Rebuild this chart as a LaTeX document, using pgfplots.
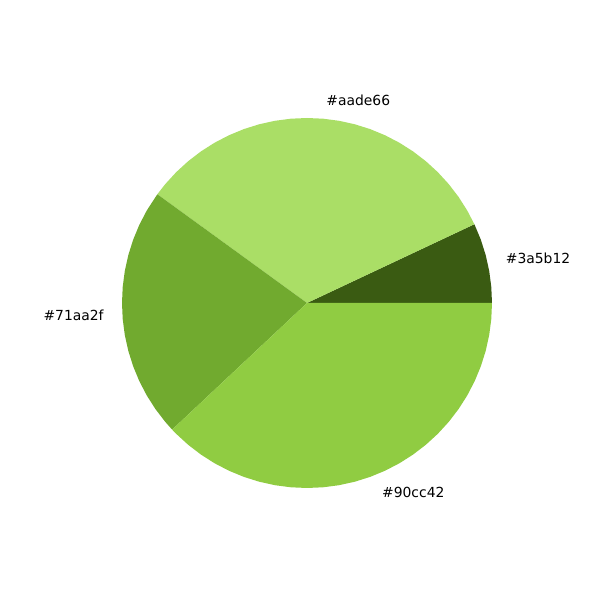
\documentclass[border=0pt]{standalone}
\usepackage{fontspec}
\setmainfont{DejaVu Sans}
\usepackage{pgfplots}
\pgfplotsset{compat=1.18}
\definecolor{cA}{HTML}{3A5B12}
\definecolor{cB}{HTML}{AADE66}
\definecolor{cC}{HTML}{71AA2F}
\definecolor{cD}{HTML}{90CC42}
\begin{document}
\begin{tikzpicture}
\begin{axis}[
  name=pie,
  width=432pt, height=432pt, scale only axis,
  xmin=-1.6595, xmax=1.5838, ymin=-1.6054, ymax=1.6378,
  hide axis, clip=false,
]
% values 7, 33, 22, 38 (percent) -> angles 0, 25.2, 144, 223.2, 360
\addplot[fill=cA, draw=none, data cs=polar] coordinates {
 (0,0) (0,1) (5,1) (10,1) (15,1) (20,1) (25.2,1)} -- cycle;
\addplot[fill=cB, draw=none, data cs=polar] coordinates {
 (0,0) (25.2,1) (30,1) (35,1) (40,1) (45,1) (50,1) (55,1) (60,1) (65,1) (70,1) (75,1) (80,1) (85,1) (90,1) (95,1) (100,1) (105,1) (110,1) (115,1) (120,1) (125,1) (130,1) (135,1) (140,1) (144,1)} -- cycle;
\addplot[fill=cC, draw=none, data cs=polar] coordinates {
 (0,0) (144,1) (150,1) (155,1) (160,1) (165,1) (170,1) (175,1) (180,1) (185,1) (190,1) (195,1) (200,1) (205,1) (210,1) (215,1) (220,1) (223.2,1)} -- cycle;
\addplot[fill=cD, draw=none, data cs=polar] coordinates {
 (0,0) (223.2,1) (225,1) (230,1) (235,1) (240,1) (245,1) (250,1) (255,1) (260,1) (265,1) (270,1) (275,1) (280,1) (285,1) (290,1) (295,1) (300,1) (305,1) (310,1) (315,1) (320,1) (325,1) (330,1) (335,1) (340,1) (345,1) (350,1) (355,1) (360,1)} -- cycle;
\node[anchor=west, inner sep=0pt, font=\fontsize{10}{12}\selectfont] at (axis cs:1.0735,0.2399) {\#3a5b12};
\node[anchor=west, inner sep=0pt, font=\fontsize{10}{12}\selectfont] at (axis cs:0.1035,1.0951) {\#aade66};
\node[anchor=east, inner sep=0pt, font=\fontsize{10}{12}\selectfont] at (axis cs:-1.0978,-0.0691) {\#71aa2f};
\node[anchor=west, inner sep=0pt, font=\fontsize{10}{12}\selectfont] at (axis cs:0.4048,-1.0228) {\#90cc42};
\end{axis}
\path[use as bounding box] (pie.south west) rectangle (pie.north east);
\end{tikzpicture}
\end{document}
